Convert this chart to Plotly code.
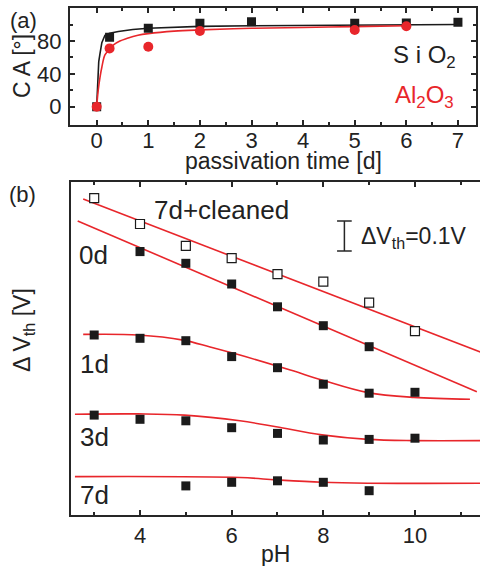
import plotly.graph_objects as go

# ---------- data: panel (a) contact angle ----------
t_sio2 = [0, 0.25, 1, 2, 3, 5, 6, 7]
ca_sio2 = [0, 84.5, 95.5, 101.5, 103.5, 101.5, 102, 102.7]
t_al2o3 = [0, 0.25, 1, 2, 5, 6]
ca_al2o3 = [0, 71, 73, 92.2, 93.4, 98]

fit_t_sio2 = [0, 0.02, 0.04, 0.065, 0.1, 0.16, 0.25, 0.42, 0.7, 1, 1.5, 2, 3, 4, 5, 6, 7]
fit_ca_sio2 = [0, 35, 55, 65, 78, 87, 89.5, 91.5, 94, 95.5, 96.8, 97.8, 98.6, 99.1, 99.5, 99.8, 100.1]
fit_t_al2o3 = [0, 0.03, 0.065, 0.1, 0.16, 0.25, 0.32, 0.45, 0.58, 0.8, 1, 1.5, 2, 3, 4, 5, 6]
fit_ca_al2o3 = [0, 20, 36, 48, 63, 70, 75, 80, 83, 87, 89, 92, 93.5, 95.5, 96.5, 97.5, 98.5]

# ---------- data: panel (b) threshold voltage shift ----------
ph_clean = [3, 4, 5, 6, 7, 8, 9, 10]
v_clean = [1.056, 0.970, 0.897, 0.856, 0.803, 0.778, 0.708, 0.613]
ph_0d = [4, 5, 6, 7, 8, 9]
v_0d = [0.878, 0.839, 0.770, 0.694, 0.631, 0.561]
ph_1d = [3, 4, 5, 6, 7, 8, 9, 10]
v_1d = [0.600, 0.589, 0.581, 0.528, 0.491, 0.436, 0.406, 0.409]
ph_3d = [3, 4, 5, 6, 7, 8, 9, 10]
v_3d = [0.333, 0.319, 0.314, 0.291, 0.272, 0.250, 0.252, 0.256]
ph_7d = [5, 6, 7, 8, 9]
v_7d = [0.097, 0.109, 0.114, 0.109, 0.081]

fit_ph_clean = [2.76, 11.43]
fit_v_clean = [1.053, 0.543]
fit_ph_0d = [2.64, 11.35]
fit_v_0d = [0.980, 0.411]
fit_ph_1d = [2.76, 3.96, 4.94, 5.53, 6.18, 7.28, 7.97, 8.97, 9.97, 11.2]
fit_v_1d = [0.602, 0.600, 0.583, 0.560, 0.533, 0.483, 0.450, 0.408, 0.392, 0.386]
fit_ph_3d = [2.58, 3.96, 4.97, 6.18, 6.97, 7.97, 8.97, 9.97, 11.43]
fit_v_3d = [0.336, 0.337, 0.333, 0.314, 0.294, 0.267, 0.252, 0.248, 0.248]
fit_ph_7d = [2.58, 6.18, 6.97, 7.97, 8.97, 11.43]
fit_v_7d = [0.128, 0.125, 0.117, 0.109, 0.106, 0.106]

top_xticks = [0, 1, 2, 3, 4, 5, 6, 7]
top_yticks = [0, 40, 80]
bot_xticks = [4, 6, 8, 10]

RED = "#e8262b"
BLK = "#1b1b1b"
AX = "#262626"
FONT = "Liberation Sans, Arial, sans-serif"

fig = go.Figure()

# panel (a)
fig.add_trace(go.Scatter(x=fit_t_sio2, y=fit_ca_sio2, mode="lines",
                         line=dict(color=BLK, width=1.6), xaxis="x", yaxis="y", showlegend=False))
fig.add_trace(go.Scatter(x=fit_t_al2o3, y=fit_ca_al2o3, mode="lines",
                         line=dict(color=RED, width=1.6, shape="spline"), xaxis="x", yaxis="y", showlegend=False))
fig.add_trace(go.Scatter(x=t_sio2, y=ca_sio2, mode="markers",
                         marker=dict(symbol="square", size=9, color=BLK), xaxis="x", yaxis="y", showlegend=False))
fig.add_trace(go.Scatter(x=t_al2o3, y=ca_al2o3, mode="markers",
                         marker=dict(symbol="circle", size=10, color=RED), xaxis="x", yaxis="y", showlegend=False))

# panel (b) fits
for fx, fy, shp in [(fit_ph_clean, fit_v_clean, "linear"), (fit_ph_0d, fit_v_0d, "linear"),
                    (fit_ph_1d, fit_v_1d, "spline"), (fit_ph_3d, fit_v_3d, "spline"),
                    (fit_ph_7d, fit_v_7d, "spline")]:
    fig.add_trace(go.Scatter(x=fx, y=fy, mode="lines", line=dict(color=RED, width=1.6, shape=shp),
                             xaxis="x2", yaxis="y2", showlegend=False))

fig.add_trace(go.Scatter(x=ph_clean, y=v_clean, mode="markers",
                         marker=dict(symbol="square", size=9, color="white",
                                     line=dict(color=BLK, width=1.2)),
                         xaxis="x2", yaxis="y2", showlegend=False))
for px_, py_ in [(ph_0d, v_0d), (ph_1d, v_1d), (ph_3d, v_3d), (ph_7d, v_7d)]:
    fig.add_trace(go.Scatter(x=px_, y=py_, mode="markers",
                             marker=dict(symbol="square", size=9, color=BLK),
                             xaxis="x2", yaxis="y2", showlegend=False))

W, H = 480, 566
ML, MR, MT, MB = 70, 0, 8, 51
PW, PH = W - ML - MR, H - MT - MB


def fx_(p):
    return (p - ML) / PW


def fy_(p):
    return (H - MB - p) / PH


axis_common = dict(showline=True, linecolor=AX, linewidth=2, ticks="inside",
                   tickcolor=AX, tickwidth=2, showgrid=False, zeroline=False,
                   tickfont=dict(family=FONT, size=22, color="#222"))

fig.update_layout(
    width=W, height=H,
    margin=dict(l=ML, r=MR, t=MT, b=MB),
    paper_bgcolor="white", plot_bgcolor="white",
    font=dict(family=FONT, color="#222"),
    xaxis=dict(domain=[0, fx_(476)], range=[-0.517, 7.35], anchor="y",
               tickmode="array", tickvals=top_xticks, ticklen=5, mirror="allticks",
               minor=dict(dtick=0.5, tick0=0, ticks="inside", ticklen=3, tickwidth=2, tickcolor=AX),
               ticklabelstandoff=-5, **axis_common),
    yaxis=dict(domain=[fy_(125), fy_(8.3)], range=[-22.3, 119.8], anchor="x",
               tickmode="array", tickvals=top_yticks, ticklen=5, mirror="allticks",
               minor=dict(tickvals=[20, 60, 100], ticks="inside", ticklen=3, tickwidth=2, tickcolor=AX),
               ticklabelstandoff=2, **axis_common),
    xaxis2=dict(domain=[fx_(71), 1], range=[2.494, 11.419], anchor="y2",
                tickmode="array", tickvals=bot_xticks, ticklen=5, mirror="allticks",
                minor=dict(dtick=1, tick0=3, ticks="inside", ticklen=3, tickwidth=2, tickcolor=AX),
                ticklabelstandoff=0, **axis_common),
    yaxis2=dict(domain=[0, fy_(182.3)], range=[0, 1.109], anchor="x2",
                showline=True, linecolor=AX, linewidth=2, ticks="", showticklabels=False,
                showgrid=False, zeroline=False),
)

anns = [
    dict(text="(a)", x=23, y=20, size=22),
    dict(text="(b)", x=22, y=194, size=22),
    dict(text="C A [°]", x=22, y=66, size=23, angle=-90),
    dict(text="Δ V<sub>th</sub> [V]", x=23, y=330, size=23, angle=-90),
    dict(text="passivation time [d]", x=283, y=161, size=23),
    dict(text="pH", x=275, y=554, size=23),
    dict(text="S i O<sub>2</sub>", x=424, y=56, size=24),
    dict(text="Al<sub>2</sub>O<sub>3</sub>", x=424, y=96, size=24, color=RED),
    dict(text="7d+cleaned", x=221, y=210, size=26),
    dict(text="0d", x=93, y=255, size=26),
    dict(text="1d", x=94, y=364, size=26),
    dict(text="3d", x=94, y=437, size=26),
    dict(text="7d", x=94, y=495, size=26),
    dict(text="ΔV<sub>th</sub>=0.1V", x=414, y=237, size=23),
]
for a in anns:
    fig.add_annotation(text=a["text"], x=fx_(a["x"]), y=fy_(a["y"]), xref="paper", yref="paper",
                       showarrow=False, xanchor="center", yanchor="middle",
                       textangle=a.get("angle", 0),
                       font=dict(family=FONT, size=a["size"], color=a.get("color", "#222")))

# scale bar for 0.1 V
bar_x, bar_y0, bar_h, cap = 8.46, 0.88, 0.1, 0.16
fig.add_shape(type="line", xref="x2", yref="y2", x0=bar_x, x1=bar_x, y0=bar_y0, y1=bar_y0 + bar_h,
              line=dict(color=AX, width=1.5))
for yy in (bar_y0, bar_y0 + bar_h):
    fig.add_shape(type="line", xref="x2", yref="y2", x0=bar_x - cap, x1=bar_x + cap, y0=yy, y1=yy,
                  line=dict(color=AX, width=1.5))

fig.write_html("out.html")
